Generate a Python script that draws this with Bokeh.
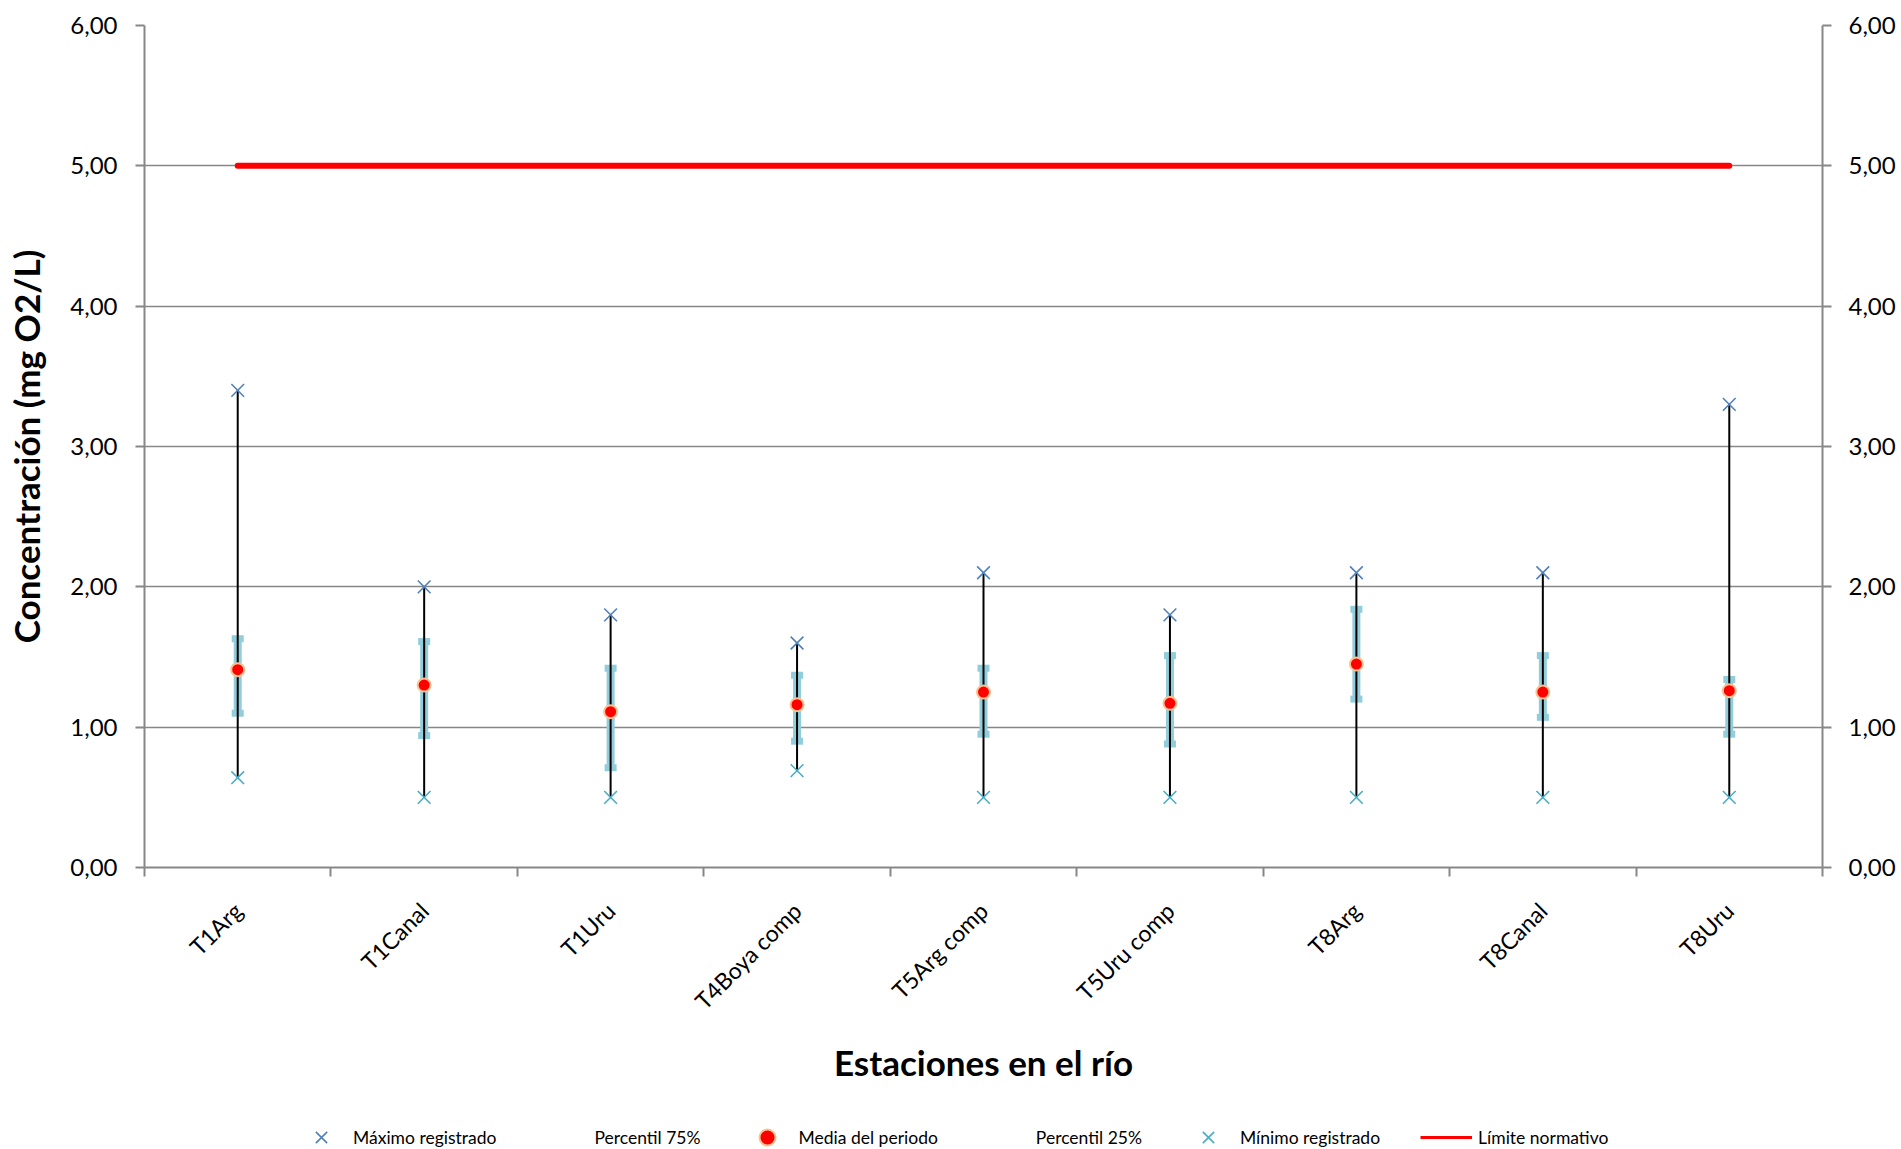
import math
from bokeh.plotting import figure
from bokeh.layouts import column
from bokeh.models import (Range1d, LinearAxis, FixedTicker, CustomJSTickFormatter,
                          Legend, LegendItem, ColumnDataSource)
from bokeh.embed import file_html
from bokeh.resources import INLINE

stations = ["T1Arg", "T1Canal", "T1Uru", "T4Boya comp", "T5Arg comp",
            "T5Uru comp", "T8Arg", "T8Canal", "T8Uru"]
maximo = [3.40, 2.00, 1.80, 1.60, 2.10, 1.80, 2.10, 2.10, 3.30]
p75 = [1.63, 1.61, 1.42, 1.37, 1.42, 1.51, 1.84, 1.51, 1.34]
media = [1.41, 1.30, 1.11, 1.16, 1.25, 1.17, 1.45, 1.25, 1.26]
p25 = [1.10, 0.94, 0.71, 0.90, 0.95, 0.88, 1.20, 1.07, 0.95]
minimo = [0.64, 0.50, 0.50, 0.69, 0.50, 0.50, 0.50, 0.50, 0.50]
limite = [5.00] * 9
y_ticks = [0, 1, 2, 3, 4, 5, 6]

xs = [i + 0.5 for i in range(len(stations))]
src = ColumnDataSource(dict(x=xs, name=stations, mx=maximo, p75=p75, mean=media,
                            p25=p25, mn=minimo, lim=limite))

FONT = "Lato"
GRAY = "#878787"
C_MAX = "#4F81BD"
C_MIN = "#4BACC6"
C_BAR = "#92CDDC"
C_RED = "#FF0000"

MAIN_H = 1107
p = figure(width=1901, height=MAIN_H, output_backend="svg", toolbar_location=None,
           x_range=Range1d(0, len(stations)), y_range=Range1d(0, 6),
           min_border_left=144, min_border_right=79, min_border_top=25,
           min_border_bottom=MAIN_H - 867, y_axis_label="Concentración (mg O2/L)",
           x_axis_label="Estaciones en el río")
p.outline_line_color = None
p.xgrid.visible = False
p.ygrid.grid_line_color = GRAY
p.ygrid.grid_line_width = 1.5
p.ygrid.ticker = FixedTicker(ticks=y_ticks)

yfmt = CustomJSTickFormatter(code="return tick.toFixed(2).replace('.', ',');")

def style_y(ax):
    ax.ticker = FixedTicker(ticks=y_ticks)
    ax.formatter = yfmt
    ax.axis_line_color = GRAY
    ax.axis_line_width = 2
    ax.major_tick_line_color = GRAY
    ax.major_tick_line_width = 2
    ax.major_tick_in = 0
    ax.major_tick_out = 9
    ax.minor_tick_line_color = None
    ax.major_label_text_font = FONT
    ax.major_label_text_font_size = "24px"
    ax.major_label_text_color = "black"
    ax.major_label_standoff = 18

yl = p.yaxis[0]
style_y(yl)
yl.axis_label_text_font = FONT
yl.axis_label_text_font_style = "bold"
yl.axis_label_text_font_size = "35px"
yl.axis_label_text_color = "black"
yl.axis_label_standoff = 20

yr = LinearAxis()
style_y(yr)
yr.major_label_standoff = 17
p.add_layout(yr, "right")

xa = p.xaxis[0]
xa.ticker = FixedTicker(ticks=xs, minor_ticks=list(range(len(stations) + 1)))
xa.formatter = CustomJSTickFormatter(args=dict(labels=stations),
                                     code="return labels[Math.floor(tick)];")
xa.axis_line_color = GRAY
xa.axis_line_width = 2
xa.major_tick_in = 0
xa.major_tick_out = 0
xa.major_tick_line_color = None
xa.minor_tick_in = 0
xa.minor_tick_out = 9
xa.minor_tick_line_color = GRAY
xa.minor_tick_line_width = 2
xa.major_label_orientation = math.pi / 4
xa.major_label_text_font = FONT
xa.major_label_text_font_size = "23px"
xa.major_label_text_color = "black"
xa.major_label_standoff = 30
xa.axis_label_text_font = FONT
xa.axis_label_text_font_style = "bold"
xa.axis_label_text_font_size = "35px"
xa.axis_label_text_color = "black"
xa.axis_label_standoff = 14

# limit line
p.line("x", "lim", source=src, line_color=C_RED, line_width=6, line_cap="round")

# percentile bars with caps
p.segment(x0="x", y0="p25", x1="x", y1="p75", source=src, line_color=C_BAR, line_width=8)
p.rect(x="x", y="p75", width=12, height=7, width_units="screen", height_units="screen",
       source=src, fill_color=C_BAR, line_color=None)
p.rect(x="x", y="p25", width=12, height=7, width_units="screen", height_units="screen",
       source=src, fill_color=C_BAR, line_color=None)

# high-low line
p.segment(x0="x", y0="mn", x1="x", y1="mx", source=src, line_color="black", line_width=2)

p.scatter("x", "mean", source=src, marker="circle", size=13,
          fill_color=C_RED, line_color="#FAC090", line_width=2)
p.scatter("x", "mx", source=src, marker="x", size=18, line_color=C_MAX, line_width=1.6)
p.scatter("x", "mn", source=src, marker="x", size=18, line_color=C_MIN, line_width=1.6)

# ---- legend strip (separate canvas below the chart; its ranges exclude the data) ----
LEG_H = 1149 - MAIN_H
q = figure(width=1901, height=LEG_H, output_backend="svg", toolbar_location=None,
           x_range=Range1d(100, 101), y_range=Range1d(100, 101),
           min_border_left=144, min_border_right=79, min_border_top=0, min_border_bottom=0)
q.axis.visible = False
q.grid.visible = False
q.outline_line_color = None

l_max = q.scatter("x", "mx", source=src, marker="x", line_color=C_MAX, line_width=1.6)
l_p75 = q.scatter("x", "p75", source=src, fill_alpha=0, line_alpha=0)
l_mean = q.scatter("x", "mean", source=src, marker="circle", fill_color=C_RED,
                   line_color="#FAC090", line_width=2)
l_p25 = q.scatter("x", "p25", source=src, fill_alpha=0, line_alpha=0)
l_min = q.scatter("x", "mn", source=src, marker="x", line_color=C_MIN, line_width=1.6)
l_lim = q.line("x", "lim", source=src, line_color=C_RED, line_width=3)

legend = Legend(items=[
    LegendItem(label="Máximo registrado", renderers=[l_max]),
    LegendItem(label="Percentil 75%", renderers=[l_p75]),
    LegendItem(label="Media del periodo", renderers=[l_mean]),
    LegendItem(label="Percentil 25%", renderers=[l_p25]),
    LegendItem(label="Mínimo registrado", renderers=[l_min]),
    LegendItem(label="Límite normativo", renderers=[l_lim]),
], orientation="horizontal", location=(151, -8))
legend.glyph_width = 52
legend.glyph_height = 40
legend.label_standoff = 6
legend.spacing = 40
legend.label_text_font = FONT
legend.label_text_font_size = "17.5px"
legend.label_text_color = "black"
legend.border_line_color = None
legend.background_fill_alpha = 0
legend.padding = 0
legend.margin = 0
q.add_layout(legend, "center")

layout = column(p, q, spacing=0)
open("out.html", "w").write(file_html(layout, INLINE))
